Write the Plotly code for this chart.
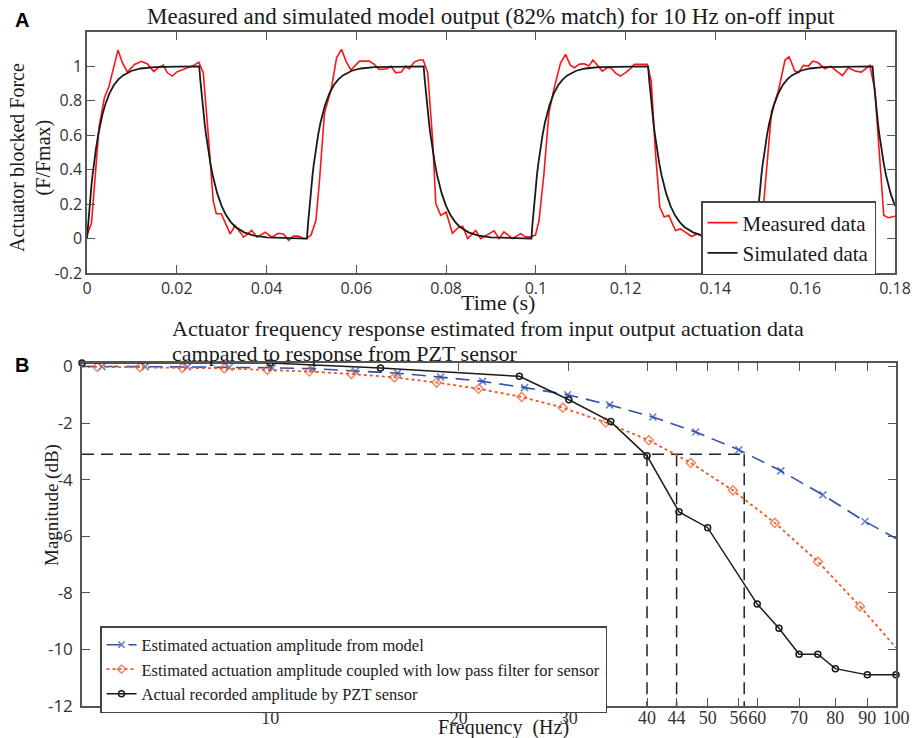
import plotly.graph_objects as go

# ---------------- Panel A data ----------------
meas_t = [0.0000, 0.0010, 0.0027, 0.0039, 0.0049, 0.0069, 0.0079, 0.0090, 0.0106, 0.0121,
          0.0134, 0.0149, 0.0158, 0.0170, 0.0179, 0.0190, 0.0201, 0.0223, 0.0238, 0.0249,
          0.0259, 0.0271, 0.0281, 0.0288, 0.0299, 0.0319, 0.0330, 0.0349, 0.0367, 0.0379,
          0.0397, 0.0412, 0.0426, 0.0438, 0.0449, 0.0460, 0.0471, 0.0482, 0.0488, 0.0499,
          0.0510, 0.0518, 0.0529, 0.0544, 0.0556, 0.0567, 0.0577, 0.0588, 0.0607, 0.0629,
          0.0640, 0.0651, 0.0668, 0.0677, 0.0688, 0.0700, 0.0710, 0.0718, 0.0729, 0.0740,
          0.0749, 0.0759, 0.0770, 0.0777, 0.0788, 0.0800, 0.0814, 0.0828, 0.0837, 0.0848,
          0.0866, 0.0877, 0.0896, 0.0907, 0.0918, 0.0929, 0.0948, 0.0966, 0.0977, 0.0988,
          0.0999, 0.1007, 0.1018, 0.1029, 0.1040, 0.1055, 0.1066, 0.1077, 0.1086, 0.1096,
          0.1107, 0.1118, 0.1127, 0.1138, 0.1148, 0.1159, 0.1167, 0.1177, 0.1188, 0.1199,
          0.1210, 0.1219, 0.1233, 0.1248, 0.1257, 0.1266, 0.1276, 0.1286, 0.1296, 0.1311,
          0.1322, 0.1336, 0.1347, 0.1359, 0.1375, 0.1390, 0.1410, 0.1430, 0.1450, 0.1470,
          0.1488, 0.1498, 0.1507, 0.1525, 0.1540, 0.1555, 0.1564, 0.1577, 0.1585, 0.1596,
          0.1607, 0.1617, 0.1629, 0.1644, 0.1657, 0.1670, 0.1683, 0.1696, 0.1711, 0.1725,
          0.1744, 0.1755, 0.1766, 0.1775, 0.1785, 0.1800]
meas_y = [0.02, 0.09, 0.65, 0.82, 0.885, 1.095, 1.02, 0.967, 1.011, 1.03,
          1.016, 0.97, 0.992, 1.008, 0.963, 0.944, 0.969, 0.992, 1.006, 1.025,
          0.963, 0.573, 0.222, 0.144, 0.144, 0.027, 0.076, 0.008, 0.047, 0.008,
          0.037, 0.008, 0.031, 0.027, -0.01, 0.014, 0.014, 0.0, 0.0, 0.02,
          0.105, 0.339, 0.729, 0.867, 1.05, 1.099, 1.031, 0.979, 1.031, 1.031,
          1.012, 0.982, 0.986, 1.002, 0.963, 0.967, 1.002, 0.986, 1.025, 1.037,
          1.037, 0.963, 0.573, 0.203, 0.135, 0.154, 0.031, 0.066, 0.070, 0.0,
          0.047, 0.0, 0.029, 0.045, 0.0, 0.039, 0.0, 0.029, 0.010, 0.01,
          0.02, 0.105, 0.378, 0.729, 0.867, 1.021, 1.07, 1.006, 0.992, 1.012,
          1.016, 1.002, 1.037, 1.002, 0.973, 0.992, 0.992, 0.963, 0.944, 0.963,
          0.986, 1.012, 1.012, 1.012, 0.914, 0.514, 0.183, 0.125, 0.135, 0.047,
          0.056, 0.031, 0.012, 0.027, 0.01, 0.03, 0.0, 0.03, 0.01, 0.02,
          0.0, 0.02, 0.19, 0.739, 0.856, 1.037, 1.056, 0.973, 0.963, 1.006,
          1.002, 1.031, 1.021, 0.986, 1.002, 0.973, 0.947, 0.992, 0.973, 0.967,
          1.006, 0.867, 0.495, 0.135, 0.121, 0.13]

# simulated model: switching instants and the read-off rise / decay shapes
sim_on_times = [0.000, 0.049, 0.099, 0.149]
sim_off_times = [0.025, 0.075, 0.125, 0.175]
sim_end_time = 0.18
rise_dt_ms = [0, 0.25, 0.5, 0.75, 1, 1.25, 1.5, 2, 2.5, 3, 3.5, 4, 5, 6, 7, 8, 10, 12, 15, 20, 25]
rise_val = [0, 0.088, 0.169, 0.243, 0.310, 0.371, 0.426, 0.523, 0.604, 0.671, 0.727, 0.773,
            0.843, 0.892, 0.925, 0.948, 0.975, 0.988, 0.996, 0.999, 1.0]
fall_dt_ms = [0, 0.25, 0.5, 0.75, 1, 1.25, 1.5, 2, 2.5, 3, 3.5, 4, 5, 6, 7, 8, 10, 12, 15, 20]
fall_val = [1.0, 0.920, 0.846, 0.779, 0.717, 0.659, 0.607, 0.513, 0.435, 0.368, 0.311, 0.264,
            0.189, 0.135, 0.097, 0.069, 0.036, 0.018, 0.007, 0.001]

sim_t, sim_y = [], []
for i, t_on in enumerate(sim_on_times):
    t_off = sim_off_times[i]
    for dt, v in zip(rise_dt_ms, rise_val):
        if t_on + dt / 1000 < t_off:
            sim_t.append(t_on + dt / 1000)
            sim_y.append(v)
    sim_t.append(t_off)
    sim_y.append(1.0)
    t_next = sim_on_times[i + 1] if i + 1 < len(sim_on_times) else sim_end_time
    for dt, v in zip(fall_dt_ms[1:], fall_val[1:]):
        if t_off + dt / 1000 <= t_next:
            sim_t.append(t_off + dt / 1000)
            sim_y.append(v)
    if i + 1 < len(sim_on_times):
        sim_t.append(t_next)
        sim_y.append(0.0)

time_ticks = [0, 0.02, 0.04, 0.06, 0.08, 0.1, 0.12, 0.14, 0.16, 0.18]
time_tick_text = ["0", "0.02", "0.04", "0.06", "0.08", "0.1", "0.12", "0.14", "0.16", "0.18"]
force_ticks = [-0.2, 0, 0.2, 0.4, 0.6, 0.8, 1]
force_tick_text = ["-0.2", "0", "0.2", "0.4", "0.6", "0.8", "1"]

# ---------------- Panel B data ----------------
model_f = [5.0, 5.38, 6.31, 7.37, 8.60, 10.07, 11.67, 13.68, 15.97, 18.71, 21.84, 25.49,
           29.87, 34.86, 40.86, 47.86, 56.09, 65.46, 76.39, 89.22, 100.0]
model_db = [0.0, -0.01, -0.01, -0.02, -0.03, -0.05, -0.08, -0.17, -0.24, -0.38, -0.53, -0.75,
            -1.0, -1.36, -1.79, -2.32, -2.95, -3.69, -4.54, -5.48, -6.08]
filt_f = [5.0, 5.29, 6.19, 7.23, 8.44, 9.89, 11.54, 13.48, 15.79, 18.44, 21.52, 25.21, 29.33,
          34.36, 40.26, 46.99, 54.86, 64.04, 75.04, 87.58, 100.0]
filt_db = [-0.01, -0.02, -0.03, -0.05, -0.07, -0.12, -0.18, -0.27, -0.39, -0.57, -0.79, -1.08,
           -1.46, -1.98, -2.61, -3.41, -4.38, -5.53, -6.90, -8.48, -9.94]
pzt_f = [5, 10, 15, 25, 30, 35, 40, 45, 50, 60, 65, 70, 75, 80, 90, 100]
pzt_db = [0.12, 0.12, -0.06, -0.35, -1.18, -1.95, -3.16, -5.14, -5.70, -8.40, -9.25, -10.17,
          -10.17, -10.68, -10.90, -10.90]
cutoff_level = -3.1
cutoff_freqs = [40, 44.6, 57.2]
freq_min, freq_max = 5, 100
db_min, db_max = -12, 0.12

freq_ticks = [10, 20, 30, 40, 44.6, 50, 56, 60, 70, 80, 90, 100]
freq_tick_text = ["10", "20", "30", "40", "44", "50", "56", "60", "70", "80", "90", "100"]
db_ticks = [0, -2, -4, -6, -8, -10, -12]
db_tick_text = ["0", "-2", "-4", "-6", "-8", "-10", "-12"]

# ---------------- figure ----------------
W, H = 916, 738
SERIF = "Liberation Serif"
SANS = "Open Sans"
AX = "#555555"
BLUE = "#3050ae"
ORANGE = "#ee5a24"
TXT = "#1a1a1a"


def px(x):
    return x / W


def py(y):
    return 1 - y / H


fig = go.Figure()

fig.add_trace(go.Scatter(x=meas_t, y=meas_y, mode="lines", name="Measured data",
                         line=dict(color="#ff1414", width=1.6), legend="legend",
                         xaxis="x", yaxis="y"))
fig.add_trace(go.Scatter(x=sim_t, y=sim_y, mode="lines", name="Simulated data",
                         line=dict(color=TXT, width=1.8), legend="legend",
                         xaxis="x", yaxis="y"))

# -3 dB guide lines
gx, gy = [freq_min, cutoff_freqs[-1], None], [cutoff_level, cutoff_level, None]
for f in cutoff_freqs:
    gx += [f, f, None]
    gy += [cutoff_level, db_min, None]
fig.add_trace(go.Scatter(x=gx, y=gy, mode="lines", showlegend=False, hoverinfo="skip",
                         line=dict(color="#222222", width=1.5, dash="12px,7px"),
                         xaxis="x2", yaxis="y2"))


def sizes(n, s):
    return [0] + [s] * (n - 2) + [0]


fig.add_trace(go.Scatter(x=model_f, y=model_db, mode="lines+markers",
                         name="Estimated actuation amplitude from model",
                         line=dict(color=BLUE, width=1.6, dash="14px,8px"),
                         marker=dict(symbol="x-thin", size=sizes(len(model_f), 7), color=BLUE,
                                     line=dict(color=BLUE, width=1.6)),
                         legend="legend2", xaxis="x2", yaxis="y2"))
fig.add_trace(go.Scatter(x=filt_f, y=filt_db, mode="lines+markers",
                         name="Estimated actuation amplitude coupled with low pass filter for sensor",
                         line=dict(color=ORANGE, width=1.8, dash="3px,3px"),
                         marker=dict(symbol="diamond-open", size=sizes(len(filt_f), 7),
                                     color=ORANGE, line=dict(color=ORANGE, width=1.5)),
                         legend="legend2", xaxis="x2", yaxis="y2"))
fig.add_trace(go.Scatter(x=pzt_f, y=pzt_db, mode="lines+markers",
                         name="Actual recorded amplitude by PZT sensor",
                         line=dict(color=TXT, width=1.5),
                         marker=dict(symbol="circle-open", size=6, color=TXT,
                                     line=dict(color=TXT, width=1.5)),
                         cliponaxis=False,
                         legend="legend2", xaxis="x2", yaxis="y2"))

axis_common = dict(showline=True, linecolor=AX, linewidth=1.5, mirror="ticks",
                   ticks="inside", ticklen=8, tickcolor=AX, tickwidth=1.3,
                   showgrid=False, zeroline=False, automargin=False, tickangle=0)

fig.update_layout(
    width=W, height=H,
    margin=dict(l=0, r=0, t=0, b=0, autoexpand=False),
    paper_bgcolor="white", plot_bgcolor="white",
    font=dict(family=SERIF, color=TXT),
    showlegend=True,
    xaxis=dict(domain=[px(87), px(895)], range=[0, 0.18], anchor="y",
               tickvals=time_ticks, ticktext=time_tick_text,
               tickfont=dict(family=SANS, size=16, color="#333333"), **axis_common),
    yaxis=dict(domain=[py(273), py(32)], range=[-0.2, 1.2], anchor="x",
               tickvals=force_ticks, ticktext=force_tick_text,
               tickfont=dict(family=SANS, size=16, color="#333333"), **axis_common),
    xaxis2=dict(domain=[px(82), px(896)], type="log",
                range=[0.69897, 2.0], anchor="y2",
                tickvals=freq_ticks, ticktext=freq_tick_text, ticklabelstandoff=-5,
                tickfont=dict(family=SERIF, size=18, color="#333333"), **axis_common),
    yaxis2=dict(domain=[py(706), py(363)], range=[db_min, db_max], anchor="x2",
                tickvals=db_ticks, ticktext=db_tick_text, ticklabelstandoff=4,
                tickfont=dict(family=SANS, size=17, color="#333333"), **axis_common),
    legend=dict(x=px(701), y=py(201), xanchor="left", yanchor="top",
                bgcolor="white", bordercolor="#444444", borderwidth=1.5,
                font=dict(family=SERIF, size=21, color=TXT),
                tracegroupgap=0, itemwidth=30),
    legend2=dict(x=px(100), y=py(626), xanchor="left", yanchor="top",
                 bgcolor="white", bordercolor="#444444", borderwidth=1.5,
                 font=dict(family=SERIF, size=16.5, color=TXT),
                 tracegroupgap=0, itemwidth=30),
)

ann = [
    dict(text="<b>A</b>", x=px(22), y=py(20), font=dict(family="Liberation Sans", size=20, color="black")),
    dict(text="<b>B</b>", x=px(22), y=py(365), font=dict(family="Liberation Sans", size=20, color="black")),
    dict(text="Measured and simulated model output (82% match) for 10 Hz on-off input",
         x=px(491), y=py(17), font=dict(family=SERIF, size=23, color=TXT)),
    dict(text="Time (s)", x=px(498), y=py(302), font=dict(family=SERIF, size=22, color=TXT)),
    dict(text="Actuator blocked Force<br>(F/Fmax)", x=px(31), y=py(158), textangle=-90,
         font=dict(family=SERIF, size=20, color=TXT)),
    dict(text="Frequency\u00a0 (Hz)", x=px(504), y=py(727), font=dict(family=SERIF, size=20, color=TXT)),
    dict(text="Magnitude (dB)", x=px(52), y=py(505), textangle=-90,
         font=dict(family=SERIF, size=19, color=TXT)),
]
for a in ann:
    fig.add_annotation(xref="paper", yref="paper", xanchor="center", yanchor="middle",
                       showarrow=False, **a)
title_b_lines = ["Actuator frequency response estimated from input output actuation data",
                 "campared to response from PZT sensor"]
for line, yy in zip(title_b_lines, [328, 353]):
    fig.add_annotation(xref="paper", yref="paper", x=px(170), y=py(yy), xanchor="left",
                       yanchor="middle", align="left", showarrow=False, text=line,
                       font=dict(family=SERIF, size=22, color=TXT))

fig.write_html("out.html", config={"displayModeBar": False},
               post_script="document.body.style.margin='0px';")
